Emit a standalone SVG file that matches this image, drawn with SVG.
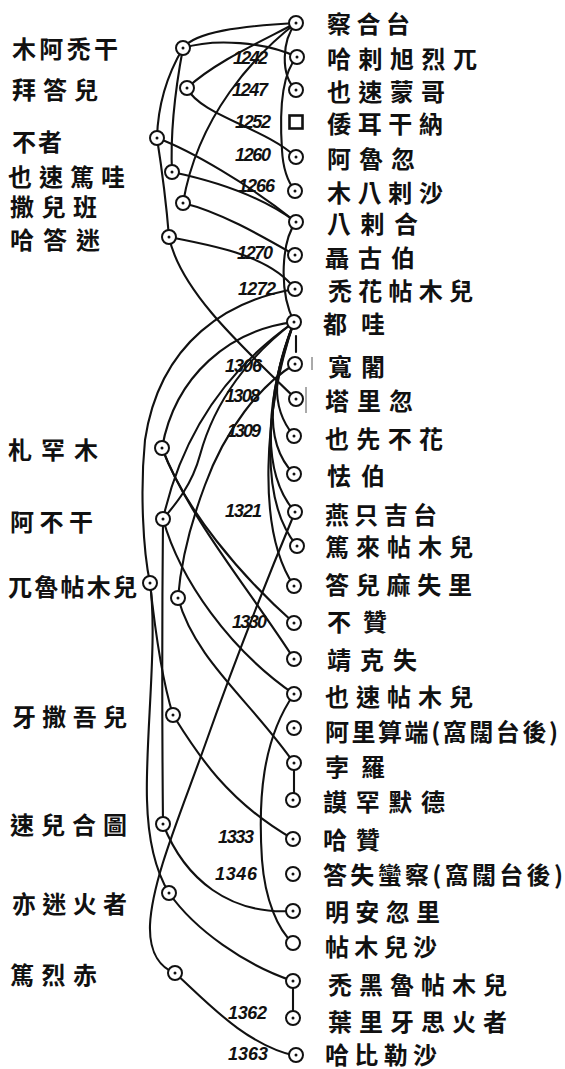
<svg xmlns="http://www.w3.org/2000/svg" xmlns:xlink="http://www.w3.org/1999/xlink" width="565" height="1069" viewBox="0 0 565 1069">
<style>
.c{fill:none;stroke:#111;stroke-width:2.1;stroke-linecap:round}
.ring{fill:#fff;stroke:#111;stroke-width:2}
.dot{fill:#111}
.t{font-family:"Noto Sans CJK TC","Noto Sans CJK SC",sans-serif;font-size:24px;font-weight:700;fill:#111;dominant-baseline:central}
.y{font-family:"Liberation Sans",Arial,sans-serif;font-style:italic;font-weight:700;font-size:18px;fill:#111}
.faint{stroke:#555;stroke-width:1;fill:none}
</style>
<defs>
<g id="nd"><circle class="ring" r="7"/><circle class="dot" r="1.5"/></g>
</defs>
<rect width="565" height="1069" fill="#fff"/>

<g id="connectors">
<path class="c" d="M183,48 C195,32 240,26 296,23"/>
<path class="c" d="M296,23 C260,42 215,62 187,88"/>
<path class="c" d="M296,23 C255,55 198,115 183,203"/>
<path class="c" d="M296,23 C282,40 280,75 296,90"/>
<path class="c" d="M183,48 C215,38 265,42 297,57"/>
<path class="c" d="M297,57 C280,75 280,120 282,150 C283,170 288,182 295,191"/>
<path class="c" d="M183,48 C170,70 158,100 157,138"/>
<path class="c" d="M183,48 C177,80 170,130 172,172"/>
<path class="c" d="M157,138 C162,170 166,200 169,237"/>
<path class="c" d="M187,88 C200,115 265,128 296,157"/>
<path class="c" d="M157,138 C190,150 250,185 296,222"/>
<path class="c" d="M172,172 C210,180 260,195 296,222"/>
<path class="c" d="M183,203 C220,212 260,235 295,255"/>
<path class="c" d="M169,237 C210,245 270,255 295,289"/>
<path class="c" d="M169,237 C180,290 240,345 296,399"/>
<path class="c" d="M296,222 C282,240 278,290 294,322"/>
<path class="c" d="M295,289 C230,300 160,340 145,440 C140,490 143,550 150,583"/>
<path class="c" d="M150,583 C158,640 145,740 147,800 C148,840 155,870 169,893"/>
<path class="c" d="M150,583 C155,630 162,680 173,715"/>
<path class="c" d="M163,519 C162,620 162,720 163,824"/>
<path class="c" d="M294,322 C230,330 175,375 162,448"/>
<path class="c" d="M294,322 C240,360 185,420 163,519"/>
<path class="c" d="M294,322 C250,355 215,400 200,455 C192,485 175,505 163,519"/>
<path class="c" d="M295,364 C260,385 225,430 205,485 C190,525 181,560 178,598"/>
<path class="c" d="M296,336 L296,352"/>
<path class="c" d="M294,322 C275,370 268,405 294,436"/>
<path class="c" d="M294,322 C272,380 260,440 294,474"/>
<path class="c" d="M294,322 C268,390 258,470 295,512"/>
<path class="c" d="M294,322 C266,400 258,500 297,546"/>
<path class="c" d="M294,322 C264,410 256,530 294,586"/>
<path class="c" d="M162,448 C185,510 240,575 294,623"/>
<path class="c" d="M162,448 C190,520 250,590 294,659"/>
<path class="c" d="M163,519 C180,580 230,650 294,694"/>
<path class="c" d="M178,598 C195,660 250,700 294,763"/>
<path class="c" d="M295,512 C275,560 235,660 205,745 C180,815 152,880 150,925 C149,955 162,968 175,973"/>
<path class="c" d="M294,694 C262,740 258,800 262,860 C265,900 278,930 293,943"/>
<path class="c" d="M173,715 C195,750 225,800 293,839"/>
<path class="c" d="M163,824 C185,880 230,915 293,911"/>
<path class="c" d="M169,893 C195,930 245,965 293,981"/>
<path class="c" d="M175,973 C205,1000 245,1045 296,1056"/>
<path class="c" d="M294,770 L294,793"/>
<path class="c" d="M293,988 L293,1011"/>
<path class="faint" d="M312,357 L312,370 M306,387 L306,413"/>
</g>

<g id="years">
<text class="y" x="233" y="64" textLength="35">1242</text>
<text class="y" x="232" y="96" textLength="36">1247</text>
<text class="y" x="235" y="128" textLength="36">1252</text>
<text class="y" x="235" y="161" textLength="36">1260</text>
<text class="y" x="238" y="192" textLength="37">1266</text>
<text class="y" x="237" y="259" textLength="36">1270</text>
<text class="y" x="238" y="295" textLength="38">1272</text>
<text class="y" x="225" y="372" textLength="37">1306</text>
<text class="y" x="225" y="402" textLength="35">1308</text>
<text class="y" x="227" y="437" textLength="34">1309</text>
<text class="y" x="225" y="517" textLength="37">1321</text>
<text class="y" x="232" y="628" textLength="35">1330</text>
<text class="y" x="218" y="843" textLength="36">1333</text>
<text class="y" x="215" y="880" textLength="42">1346</text>
<text class="y" x="228" y="1019" textLength="39">1362</text>
<text class="y" x="228" y="1060" textLength="40">1363</text>
</g>

<g id="n-chagatai"><use xlink:href="#nd" x="296" y="23"/><text class="t" x="327" y="22" textLength="83">察合台</text></g>
<g id="n-qarahulegu"><use xlink:href="#nd" x="297" y="57"/><text class="t" x="327" y="57" textLength="150">哈剌旭烈兀</text></g>
<g id="n-yesumongke"><use xlink:href="#nd" x="296" y="90"/><text class="t" x="327" y="90" textLength="118">也速蒙哥</text></g>
<g id="n-orghana"><rect x="289.5" y="115.5" width="13" height="13" fill="#fff" stroke="#111" stroke-width="2.6"/><text class="t" x="327" y="122" textLength="116">倭耳干納</text></g>
<g id="n-alghu"><use xlink:href="#nd" x="296" y="157"/><text class="t" x="327" y="157" textLength="88">阿魯忽</text></g>
<g id="n-mubarakshah"><use xlink:href="#nd" x="295" y="191"/><text class="t" x="327" y="191" textLength="116">木八剌沙</text></g>
<g id="n-baraq"><use xlink:href="#nd" x="296" y="222"/><text class="t" x="327" y="222" textLength="91">八剌合</text></g>
<g id="n-negubei"><use xlink:href="#nd" x="295" y="255"/><text class="t" x="325" y="256" textLength="90">聶古伯</text></g>
<g id="n-buqatemur"><use xlink:href="#nd" x="295" y="289"/><text class="t" x="328" y="289" textLength="145">禿花帖木兒</text></g>
<g id="n-duwa"><use xlink:href="#nd" x="294" y="322"/><text class="t" x="323" y="322" textLength="62">都哇</text></g>
<g id="n-konchek"><use xlink:href="#nd" x="295" y="364"/><text class="t" x="328" y="365" textLength="57">寬闍</text></g>
<g id="n-taliqu"><use xlink:href="#nd" x="296" y="399"/><text class="t" x="325" y="399" textLength="88">塔里忽</text></g>
<g id="n-esenbuqa"><use xlink:href="#nd" x="294" y="436"/><text class="t" x="325" y="437" textLength="118">也先不花</text></g>
<g id="n-kebek"><use xlink:href="#nd" x="294" y="474"/><text class="t" x="327" y="474" textLength="58">怯伯</text></g>
<g id="n-eljigidey"><use xlink:href="#nd" x="295" y="512"/><text class="t" x="325" y="513" textLength="112">燕只吉台</text></g>
<g id="n-duwatemur"><use xlink:href="#nd" x="297" y="546"/><text class="t" x="325" y="545" textLength="148">篤來帖木兒</text></g>
<g id="n-tarmashirin"><use xlink:href="#nd" x="294" y="586"/><text class="t" x="325" y="583" textLength="147">答兒麻失里</text></g>
<g id="n-buzan"><use xlink:href="#nd" x="294" y="623"/><text class="t" x="327" y="620" textLength="60">不贊</text></g>
<g id="n-changshi"><use xlink:href="#nd" x="294" y="659"/><text class="t" x="327" y="658" textLength="90">靖克失</text></g>
<g id="n-yesuntemur"><use xlink:href="#nd" x="294" y="694"/><text class="t" x="325" y="695" textLength="148">也速帖木兒</text></g>
<g id="n-alisultan"><use xlink:href="#nd" x="294" y="728"/><text class="t" x="325" y="730" textLength="233">阿里算端(窩闊台後)</text></g>
<g id="n-pulad"><use xlink:href="#nd" x="294" y="763"/><text class="t" x="325" y="765" textLength="60">孛羅</text></g>
<g id="n-muhammad"><use xlink:href="#nd" x="293" y="800"/><text class="t" x="323" y="800" textLength="122">謨罕默德</text></g>
<g id="n-qazan"><use xlink:href="#nd" x="293" y="839"/><text class="t" x="323" y="838" textLength="57">哈贊</text></g>
<g id="n-danishmendiya"><use xlink:href="#nd" x="293" y="874"/><text class="t" x="323" y="873" textLength="240">答失蠻察(窩闊台後)</text></g>
<g id="n-bayanquli"><use xlink:href="#nd" x="293" y="911"/><text class="t" x="325" y="910" textLength="115">明安忽里</text></g>
<g id="n-temurshah"><circle class="ring" cx="293" cy="943" r="7"/><text class="t" x="325" y="945" textLength="112">帖木兒沙</text></g>
<g id="n-tughlughtemur"><use xlink:href="#nd" x="293" y="981"/><text class="t" x="328" y="983" textLength="179">禿黑魯帖木兒</text></g>
<g id="n-ilyaskhoja"><use xlink:href="#nd" x="293" y="1018"/><text class="t" x="328" y="1020" textLength="179">葉里牙思火者</text></g>
<g id="n-kabilshah"><use xlink:href="#nd" x="296" y="1055"/><text class="t" x="325" y="1053" textLength="112">哈比勒沙</text></g>

<g id="n-moetuken"><use xlink:href="#nd" x="183" y="48"/><text class="t" x="12" y="47" textLength="106">木阿禿干</text></g>
<g id="n-baidar"><use xlink:href="#nd" x="187" y="88"/><text class="t" x="12" y="88" textLength="86">拜答兒</text></g>
<g id="n-buri"><use xlink:href="#nd" x="157" y="138"/><text class="t" x="12" y="140" textLength="50">不者</text></g>
<g id="n-yesunto'a"><use xlink:href="#nd" x="172" y="172"/><text class="t" x="8" y="175" textLength="117">也速篤哇</text></g>
<g id="n-sarban"><use xlink:href="#nd" x="183" y="203"/><text class="t" x="10" y="205" textLength="87">撒兒班</text></g>
<g id="n-qadaqai"><use xlink:href="#nd" x="169" y="237"/><text class="t" x="10" y="238" textLength="90">哈答迷</text></g>
<g id="n-zhahanmu"><use xlink:href="#nd" x="162" y="448"/><text class="t" x="8" y="448" textLength="90">札罕木</text></g>
<g id="n-ebugen"><use xlink:href="#nd" x="163" y="519"/><text class="t" x="10" y="520" textLength="83">阿不干</text></g>
<g id="n-urugtemur"><use xlink:href="#nd" x="150" y="583"/><text class="t" x="8" y="585" textLength="129">兀魯帖木兒</text></g>
<g id="n-unnamed"><use xlink:href="#nd" x="178" y="598"/></g>
<g id="n-yasaur"><use xlink:href="#nd" x="173" y="715"/><text class="t" x="12" y="715" textLength="115">牙撒吾兒</text></g>
<g id="n-sorghatu"><use xlink:href="#nd" x="163" y="824"/><text class="t" x="10" y="823" textLength="117">速兒合圖</text></g>
<g id="n-emilkhwaja"><use xlink:href="#nd" x="169" y="893"/><text class="t" x="12" y="902" textLength="115">亦迷火者</text></g>
<g id="n-dorji"><use xlink:href="#nd" x="175" y="973"/><text class="t" x="10" y="973" textLength="87">篤烈赤</text></g>
</svg>
